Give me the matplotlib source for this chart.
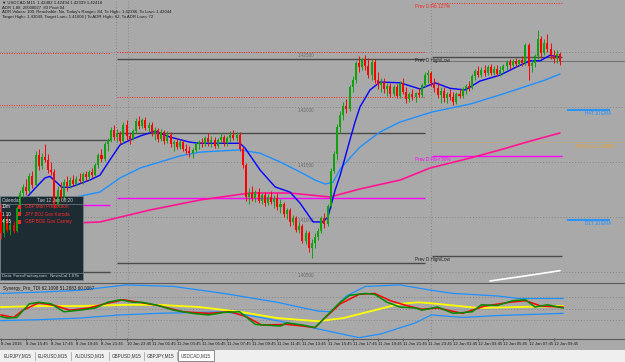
import numpy as np
import matplotlib
matplotlib.use("Agg")
import matplotlib.pyplot as plt
from matplotlib.patches import Rectangle
from matplotlib.lines import Line2D
from matplotlib.transforms import Affine2D

plt.rcParams['font.family'] = ['Liberation Sans', 'DejaVu Sans']

# USDCAD M15 candles, pips above 1.40000
opens = [105, 85, 98, 88, 93, 87, 108, 122, 127, 124, 137, 129, 156, 146, 155, 152, 143, 141, 112, 125,
         118, 132, 128, 134, 130, 135, 133, 139, 136, 141, 138, 147, 156, 153, 166, 170, 179, 173, 176, 169,
         184, 174, 171, 178, 187, 183, 188, 181, 184, 176, 179, 171, 177, 169, 175, 166, 168, 164, 168, 162,
         160, 158, 161, 166, 168, 166, 172, 168, 170, 165, 170, 173, 167, 172, 175, 172, 175, 162, 147, 118,
         122, 117, 123, 115, 120, 113, 118, 114, 117, 109, 112, 103, 106, 95, 99, 88, 92, 78, 85, 72,
         76, 82, 87, 99, 94, 110, 142, 157, 182, 193, 201, 198, 218, 225, 240, 236, 244, 237, 229, 241,
         225, 220, 223, 216, 219, 212, 218, 210, 222, 214, 207, 212, 209, 213, 211, 220, 229, 231, 222, 217,
         211, 215, 208, 212, 209, 205, 212, 210, 216, 219, 217, 228, 233, 229, 234, 231, 236, 231, 235, 230,
         234, 237, 241, 238, 242, 239, 243, 240, 256, 237, 240, 246, 262, 249, 258, 253, 247, 244, 248]
highs = [112, 100, 103, 95, 96, 110, 125, 130, 135, 140, 142, 160, 162, 158, 166, 157, 150, 144, 128, 132,
         135, 137, 136, 138, 137, 140, 141, 142, 143, 145, 149, 158, 162, 168, 172, 182, 184, 180, 178, 186,
         188, 176, 180, 190, 192, 190, 191, 186, 186, 182, 181, 180, 179, 178, 177, 170, 172, 170, 170, 166,
         165, 163, 168, 170, 172, 174, 176, 174, 173, 172, 176, 175, 174, 178, 179, 177, 177, 164, 149, 126,
         128, 125, 126, 122, 123, 121, 124, 120, 122, 116, 114, 108, 108, 102, 101, 95, 94, 88, 87, 80,
         85, 90, 101, 104, 112, 145, 160, 185, 196, 205, 207, 220, 228, 242, 246, 245, 247, 245, 244, 244,
         232, 226, 226, 222, 222, 220, 221, 224, 226, 218, 214, 216, 214, 217, 222, 232, 234, 233, 226, 223,
         218, 218, 214, 216, 214, 214, 216, 218, 221, 224, 230, 235, 237, 236, 238, 238, 239, 237, 238, 237,
         239, 243, 244, 244, 245, 244, 246, 258, 258, 243, 248, 270, 265, 262, 266, 258, 252, 252, 250]
lows = [80, 82, 86, 84, 85, 86, 105, 118, 120, 122, 126, 128, 143, 144, 150, 140, 138, 108, 110, 115,
        116, 124, 126, 128, 128, 131, 130, 133, 134, 136, 137, 145, 150, 151, 160, 168, 170, 168, 166, 167,
        170, 166, 170, 176, 180, 181, 179, 177, 174, 170, 168, 169, 166, 167, 164, 160, 162, 162, 160, 157,
        155, 154, 159, 162, 164, 165, 165, 164, 163, 163, 167, 165, 165, 168, 170, 169, 160, 145, 115, 112,
        115, 114, 113, 112, 110, 111, 112, 108, 106, 104, 100, 98, 92, 93, 86, 85, 76, 75, 68, 63,
        72, 79, 85, 90, 92, 108, 140, 152, 176, 188, 195, 196, 214, 222, 232, 234, 234, 226, 225, 222,
        216, 214, 213, 210, 209, 210, 208, 208, 212, 204, 205, 206, 205, 209, 209, 218, 222, 219, 214, 208,
        204, 205, 204, 206, 202, 203, 208, 208, 212, 215, 216, 225, 227, 227, 228, 229, 229, 229, 228, 228,
        231, 234, 235, 236, 236, 237, 237, 238, 225, 232, 236, 244, 245, 247, 250, 244, 240, 240, 238]
closes = [85, 98, 88, 93, 87, 108, 122, 127, 124, 137, 129, 156, 146, 155, 152, 143, 141, 112, 125, 118,
          132, 128, 134, 130, 135, 133, 139, 136, 141, 138, 147, 156, 153, 166, 170, 179, 173, 176, 169, 184,
          174, 171, 178, 187, 183, 188, 181, 184, 176, 179, 171, 177, 169, 175, 166, 168, 164, 168, 162, 160,
          158, 161, 166, 168, 166, 172, 168, 170, 165, 170, 173, 167, 172, 175, 172, 175, 162, 147, 118, 122,
          117, 123, 115, 120, 113, 118, 114, 117, 109, 112, 103, 106, 95, 99, 88, 92, 78, 85, 72, 76,
          82, 87, 99, 94, 110, 142, 157, 182, 193, 201, 198, 218, 225, 240, 236, 244, 237, 229, 241, 225,
          220, 223, 216, 219, 212, 218, 210, 222, 214, 207, 212, 209, 213, 211, 220, 229, 231, 222, 217, 211,
          215, 208, 212, 209, 205, 212, 210, 216, 219, 217, 228, 233, 229, 234, 231, 236, 231, 235, 230, 234,
          237, 241, 238, 242, 239, 243, 240, 256, 237, 240, 246, 262, 249, 258, 253, 247, 244, 248, 242]

# moving averages: (bar index, pips)
ma_fast = [(1.3, 95.5), (6.1, 111), (10.8, 126), (14, 135.5), (15.6, 137), (19.4, 127), (22, 127),
           (28.3, 133.6), (31.5, 138), (34.7, 152), (37.9, 165.5), (41.1, 170), (44.3, 173.6), (49, 178),
           (53.8, 172.7), (60.2, 168), (63.4, 167), (69.7, 167), (76.1, 167), (77.7, 162.7), (82.5, 142.7),
           (87.3, 127.3), (92, 122.7), (95.2, 112.7), (99.4, 95.5), (102.5, 95.5), (104.1, 100),
           (106.4, 124.5), (108, 138), (109.6, 154.5), (111.1, 170), (112.7, 186), (114.3, 200),
           (117.5, 215.5), (120.7, 222.7), (127.1, 222), (133.4, 216.4), (138.2, 222), (143, 217),
           (147.8, 215.5), (152.5, 223.6), (158.9, 229), (165.3, 238), (168.5, 242), (171.7, 242),
           (174.8, 247), (178, 245.5)]
ma_mid = [(-0.3, 102.7), (9.2, 109), (18.8, 115.5), (23.6, 118), (31.5, 122.7), (37.9, 135.5),
          (44.3, 144.5), (50.6, 150), (57, 155.5), (63.4, 159), (76.1, 161), (82.5, 158), (88.9, 150),
          (95.2, 141), (100, 133.6), (103.2, 130), (105.7, 131.5), (108, 143.6), (111.1, 153.6),
          (114.3, 163.6), (120.7, 177.3), (127.1, 186.4), (137.3, 195.5), (149.4, 202.7), (158.9, 211),
          (163.7, 215.5), (173.2, 224.5), (178, 230)]
ma_slow = [(-0.3, 90), (15.6, 93.6), (31.5, 95.5), (47.5, 106.4), (63.4, 115.5), (79.3, 121.8),
           (92, 121.8), (104.8, 118.2), (114.3, 125.5), (127.1, 133.6), (136.6, 144.5), (149.4, 153.6),
           (158.9, 161), (168.5, 169), (178, 176.4)]
ma_long = [(155.7, 41.8), (166.9, 46.4), (178, 51.2)]

# daily levels: (pips, first bar, last bar)
fib_ext = [(249, -1, 34.7), (202, -1, 34.7), (250, 36.9, 135), (209, 36.9, 135), (294.5, 137.3, 178.5)]
prev_hl = [(170, -1, 34.7), (50, -1, 34.7), (244, 36.9, 135), (176, 36.9, 135), (58, 36.9, 135),
           (245.5, 137.3, 178.5), (64.5, 137.3, 178.5)]
fib_mid = [(111, -1, 34.7), (117, 36.9, 135), (155.5, 137.3, 178.5)]
bid = 241.8
adr_low = 168
tf_ema = [(197, 'H4T 10 EMA'), (97, 'D1T 10 EMA')]
round_levels = [250, 200, 150, 100, 50]
day_lines = [36.6, 40.4, 137]

# TDI panel (bar index, value)
tdi_green = [(0, 37.5), (2, 35), (5, 36), (9, 57.5), (12, 60), (16, 57.5), (20, 45), (25, 47.5), (30, 51),
             (34, 60), (38, 64), (42, 60), (45, 60), (50, 55), (55, 47.5), (61, 42.5), (66, 40), (71, 44),
             (76, 45), (81, 25), (89, 22.5), (91, 27.5), (96, 24), (100, 20), (104, 40), (108, 60),
             (111, 71), (116, 74), (119, 72.5), (123, 60), (127, 52.5), (132, 51), (134, 47.5),
             (139, 52.5), (144, 42.5), (150, 45), (153, 56), (158, 55), (163, 62.5), (167, 64),
             (170, 52.5), (174, 56), (179, 51)]
tdi_red = [(0, 40), (4, 36), (7, 47.5), (12, 59), (17, 55), (22, 47.5), (28, 51), (33, 57.5), (39, 64),
           (44, 60), (50, 55), (58, 45), (66, 42.5), (73, 45), (78, 37.5), (83, 24), (91, 25), (96, 22.5),
           (100, 20), (102, 30), (108, 57.5), (114, 72.5), (119, 74), (124, 62.5), (129, 55), (134, 49),
           (139, 51), (147, 42.5), (154, 54), (162, 60), (167, 62.5), (172, 54), (179, 52.5)]
tdi_yellow = [(0, 52.5), (12, 54), (25, 54), (40, 56), (50, 56), (63, 52.5), (76, 45), (88, 35), (101, 30),
              (109, 35), (119, 47.5), (127, 57.5), (133, 60), (139, 57.5), (152, 51), (165, 52.5), (179, 54)]
tdi_upper = [(0, 74), (12, 76), (25, 79), (40, 87.5), (55, 85), (71, 74), (88, 60), (101, 46), (105, 45),
             (110, 70), (116, 85), (127, 87.5), (137, 79), (144, 74), (158, 70), (165, 66), (179, 66)]
tdi_lower = [(0, 31), (12, 32.5), (25, 35), (38, 40), (50, 42.5), (71, 45), (81, 37.5), (99, 20), (114, 4),
             (121, 10), (132, 27.5), (137, 40), (147, 36), (158, 39), (179, 42.5)]
tdi_levels = [68, 50, 32]

time_labels = ['8 Jan 2016', '8 Jan 15:45', '8 Jan 17:45', '8 Jan 19:45', '8 Jan 21:45', '10 Jan 23:45',
               '11 Jan 01:45', '11 Jan 03:45', '11 Jan 05:45', '11 Jan 07:45', '11 Jan 09:45',
               '11 Jan 11:45', '11 Jan 13:45', '11 Jan 15:45', '11 Jan 17:45', '11 Jan 19:45',
               '11 Jan 21:45', '11 Jan 23:45', '12 Jan 01:45', '12 Jan 03:45', '12 Jan 05:45',
               '12 Jan 07:45', '12 Jan 09:45']
tabs = ['EURJPY,M15', 'EURUSD,M15', 'AUDUSD,M15', 'GBPUSD,M15', 'GBPJPY,M15', 'USDCAD,M15']
news = [('10m', 'GBP Man Production'), ('1 10', 'JPY BOJ Gov Kuroda'), ('4 55', 'GBP BOE Gov Carney')]
info = ['\u25bc USDCAD,M15  1.42482 1.42494 1.42339 1.42418',
        'ADR 1.88  20000027  83 Pivot 04',
        "ADR Values: 100, Reachable: No, Today's Range= 84, To High= 1.42386, To Low= 1.42044",
        'Target High= 1.43049, Target Low= 1.41606 | To ADR High= 62, To ADR Low= 72']


def price(p):
    return 1.40 + np.asarray(p, dtype=float) / 10000.0


BG = '#a9a9a9'
GRID = '#858585'
FS = 3.3
X0, X1 = -0.32, 198.7

fig = plt.figure(figsize=(6.25, 3.62), dpi=100, facecolor=BG)
tpx = Affine2D().scale(1 / 625, -1 / 362).translate(0, 1) + fig.transFigure

ax = fig.add_axes([0, 80 / 362, 1, 282 / 362])
ax.set_facecolor(BG)
ax.set_xlim(X0, X1)
ax.set_ylim(price(40.9), price(297.3))
ax.set_xticks([])
ax.set_yticks([])
for s in ax.spines.values():
    s.set_visible(False)

for lv in round_levels:
    ax.axhline(price(lv), color=GRID, lw=0.7, ls=(0, (1, 2)), zorder=1)
    ax.text(94.6, price(lv - 1.2), '1.%05d' % (40000 + lv * 10), fontsize=FS, color='#6a6a6a',
            va='top', ha='left', zorder=1)
for d in day_lines:
    ax.axvline(d, color=GRID, lw=0.7, ls=(0, (1, 2)), zorder=1)

for lv, a, b in fib_ext:
    ax.hlines(price(lv), a, b, color='#ff2020', lw=0.7, ls=(0, (1, 1.5)), zorder=2)
for lv, a, b in prev_hl:
    ax.hlines(price(lv), a, b, color='#4a4a4a', lw=1.0, zorder=2)
for lv, a, b in fib_mid:
    ax.hlines(price(lv), a, b, color='#ff00ff', lw=1.0, zorder=2)
ax.hlines(price(bid), 137.3, X1, color='#747474', lw=0.8, zorder=2)
ax.hlines(price(adr_low), 137.3, X1, color='#e8a030', lw=0.5, ls=(0, (1, 2)), zorder=2)
ax.text(182.8, price(adr_low - 1.5), 'ADR Low: 1.41656', fontsize=FS, color='#f0a020', va='top', zorder=5)
for lv, lab in tf_ema:
    ax.hlines(price(lv), 180.2, 194, color='#1e90ff', lw=1.3, zorder=2)
    ax.text(186, price(lv - 0.8), lab, fontsize=FS, color='#1e90ff', va='top', zorder=5)

ax.text(131.8, price(294.5 - 0.8), 'Prev D Fib 127%', fontsize=FS, color='#ff2020', va='top', zorder=5)
ax.text(131.8, price(245.5 - 0.8), 'Prev D High/Low', fontsize=FS, color='#202020', va='top', zorder=5)
ax.text(131.8, price(155.5 - 1.0), 'Prev D Fib-r 50%', fontsize=FS, color='#ff00ff', va='top', zorder=5)
ax.text(131.8, price(64.5 - 0.8), 'Prev D High/Low', fontsize=FS, color='#202020', va='top', zorder=5)

for pts, col, lw in [(ma_long, '#ffffff', 1.2), (ma_slow, '#ff1493', 1.2),
                     (ma_mid, '#1e90ff', 1.0), (ma_fast, '#0000ff', 1.0)]:
    xs, ys = zip(*pts)
    ax.plot(xs, price(ys), color=col, lw=lw, zorder=2, solid_capstyle='round')

# candles
O, H, L, C = price(opens), price(highs), price(lows), price(closes)
idx = np.arange(len(closes))
cols = np.where(C >= O, '#10a010', '#ff0000')
ax.vlines(idx, L, H, colors=cols, lw=0.7, zorder=4)
ax.bar(idx, np.maximum(np.abs(C - O), 0.6e-4), bottom=np.minimum(O, C), width=0.64,
       color=cols, linewidth=0, zorder=4)

# info text top left
for k, line in enumerate(info):
    fig.text(2, 3 + k * 4.6, line, transform=tpx, fontsize=FS - 0.2, color='#1a1a1a', va='center')

# news calendar box
ax.add_patch(Rectangle((0, 196), 83, 84, transform=tpx, fc='#1d2b33', ec='#70808a', lw=0.6,
                       zorder=3, clip_on=False))
for yy in (203.5, 272.5):
    ax.add_line(Line2D([0, 83], [yy, yy], transform=tpx, color='#70808a', lw=0.5, zorder=3))
fig.text(2, 200, 'Calendar', transform=tpx, fontsize=FS, color='#c8d2d8', va='center')
fig.text(37, 200, 'Tue 12 Jan 08:20', transform=tpx, fontsize=FS, color='#c8d2d8', va='center')
for k, (t, ev) in enumerate(news):
    yy = 207 + k * 7.3
    fig.text(2, yy, t, transform=tpx, fontsize=FS, color='#ffffff', va='center')
    ax.add_patch(Rectangle((18, yy - 2), 3, 4, transform=tpx, fc='#ff2a2a', lw=0, zorder=5,
                           clip_on=False))
    fig.text(25, yy, ev, transform=tpx, fontsize=FS, color='#ff2a2a', va='center')
fig.text(2, 276.5, 'Data: ForexFactory.com   NewsCal 1.07b', transform=tpx, fontsize=FS - 0.2,
         color='#c8d2d8', va='center')

# TDI panel
ax2 = fig.add_axes([0, 24 / 362, 1, 55 / 362])
ax2.set_facecolor(BG)
ax2.set_xlim(X0, X1)
ax2.set_ylim(3.5, 90.5)
ax2.set_yticks([])
for s in ax2.spines.values():
    s.set_visible(False)
for lv in tdi_levels:
    ax2.axhline(lv, color=GRID, lw=0.7, ls=(0, (1, 2)), zorder=1)
for d in day_lines:
    ax2.axvline(d, color=GRID, lw=0.7, ls=(0, (1, 2)), zorder=1)
for pts, col, lw in [(tdi_upper, '#1e90ff', 0.9), (tdi_lower, '#1e90ff', 0.9), (tdi_yellow, '#ffff00', 1.3),
                     (tdi_red, '#ff0000', 1.1), (tdi_green, '#008c00', 1.1)]:
    xs, ys = zip(*pts)
    ax2.plot(xs, ys, color=col, lw=lw, zorder=2)
ax2.text(0.5, 86, 'Synergy_Pro_TDI 62.1098 51.2883 60.0067', fontsize=FS, color='#1a1a1a', va='top')
ax2.set_xticks(np.arange(0, 8 * len(time_labels), 8))
ax2.set_xticklabels(time_labels, ha='left')
ax2.tick_params(axis='x', length=2, width=0.5, color='#404040', labelsize=FS - 0.2,
                labelcolor='#1a1a1a', pad=1.2)

# panel borders
for yy in (282.5, 338.5):
    fig.add_artist(Line2D([0, 625], [yy, yy], transform=tpx, color='#5a5a5a', lw=0.8))

# symbol tabs
fig.add_artist(Rectangle((0, 350), 625, 12, transform=tpx, fc='#efefef', lw=0))
tab_x = [2, 36, 72, 110, 145, 178, 216]
for k, name in enumerate(tabs):
    a, b = tab_x[k], tab_x[k + 1] - 2
    if k == len(tabs) - 1:
        fig.add_artist(Rectangle((a, 350), b - a, 11, transform=tpx, fc='#ffffff', ec='#7a7a7a', lw=0.6))
    else:
        fig.add_artist(Line2D([b + 1, b + 1], [352, 360], transform=tpx, color='#9a9a9a', lw=0.5))
    fig.text((a + b) / 2, 356, name, transform=tpx, fontsize=FS, color='#303030', ha='center', va='center')

fig.savefig('out.png', dpi=100, facecolor=BG)
